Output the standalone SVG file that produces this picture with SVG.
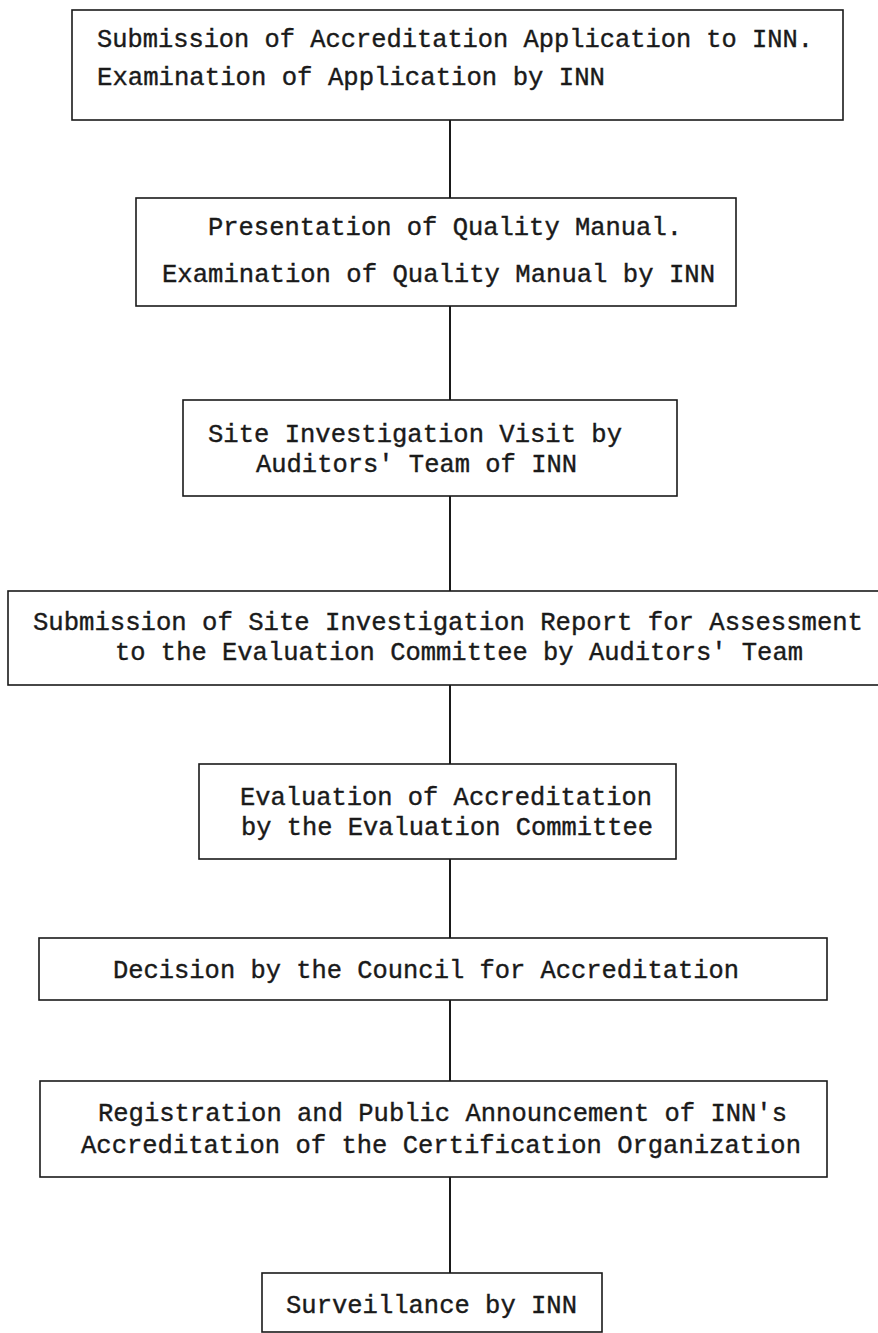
<svg xmlns="http://www.w3.org/2000/svg" width="878" height="1333" viewBox="0 0 878 1333">
<style>
.box{fill:none;stroke:#1a1a1a;stroke-width:1.6}
.lbl{font-family:"Liberation Mono","DejaVu Sans Mono",monospace;font-size:26px;fill:#1a1a1a;stroke:#1a1a1a;stroke-width:0.4}
.con line{stroke:#1a1a1a;stroke-width:2}
</style>
<rect width="878" height="1333" fill="#ffffff"/>
<g id="connectors" class="con">
<line x1="450" y1="120" x2="450" y2="198"/>
<line x1="450" y1="306" x2="450" y2="400"/>
<line x1="450" y1="496" x2="450" y2="591"/>
<line x1="450" y1="685" x2="450" y2="764"/>
<line x1="450" y1="859" x2="450" y2="938"/>
<line x1="450" y1="1000" x2="450" y2="1081"/>
<line x1="450" y1="1177" x2="450" y2="1273"/>
</g>
<g id="n1">
<rect class="box" x="72" y="10" width="771" height="110"/>
<text class="lbl" x="97" y="47" textLength="716" lengthAdjust="spacingAndGlyphs">Submission of Accreditation Application to INN.</text>
<text class="lbl" x="97" y="85" textLength="508" lengthAdjust="spacingAndGlyphs">Examination of Application by INN</text>
</g>
<g id="n2">
<rect class="box" x="136" y="198" width="600" height="108"/>
<text class="lbl" x="208" y="235" textLength="474" lengthAdjust="spacingAndGlyphs">Presentation of Quality Manual.</text>
<text class="lbl" x="162" y="282" textLength="553" lengthAdjust="spacingAndGlyphs">Examination of Quality Manual by INN</text>
</g>
<g id="n3">
<rect class="box" x="183" y="400" width="494" height="96"/>
<text class="lbl" x="208" y="442" textLength="414" lengthAdjust="spacingAndGlyphs">Site Investigation Visit by</text>
<text class="lbl" x="256" y="472" textLength="321" lengthAdjust="spacingAndGlyphs">Auditors' Team of INN</text>
</g>
<g id="n4">
<rect class="box" x="8" y="591" width="885" height="94"/>
<text class="lbl" x="33" y="630" textLength="830" lengthAdjust="spacingAndGlyphs">Submission of Site Investigation Report for Assessment</text>
<text class="lbl" x="115" y="660" textLength="688" lengthAdjust="spacingAndGlyphs">to the Evaluation Committee by Auditors' Team</text>
</g>
<g id="n5">
<rect class="box" x="199" y="764" width="477" height="95"/>
<text class="lbl" x="240" y="805" textLength="412" lengthAdjust="spacingAndGlyphs">Evaluation of Accreditation</text>
<text class="lbl" x="241" y="835" textLength="412" lengthAdjust="spacingAndGlyphs">by the Evaluation Committee</text>
</g>
<g id="n6">
<rect class="box" x="39" y="938" width="788" height="62"/>
<text class="lbl" x="113" y="978" textLength="626" lengthAdjust="spacingAndGlyphs">Decision by the Council for Accreditation</text>
</g>
<g id="n7">
<rect class="box" x="40" y="1081" width="787" height="96"/>
<text class="lbl" x="98" y="1121" textLength="689" lengthAdjust="spacingAndGlyphs">Registration and Public Announcement of INN's</text>
<text class="lbl" x="81" y="1153" textLength="720" lengthAdjust="spacingAndGlyphs">Accreditation of the Certification Organization</text>
</g>
<g id="n8">
<rect class="box" x="262" y="1273" width="340" height="59"/>
<text class="lbl" x="286" y="1313" textLength="291" lengthAdjust="spacingAndGlyphs">Surveillance by INN</text>
</g>
</svg>
